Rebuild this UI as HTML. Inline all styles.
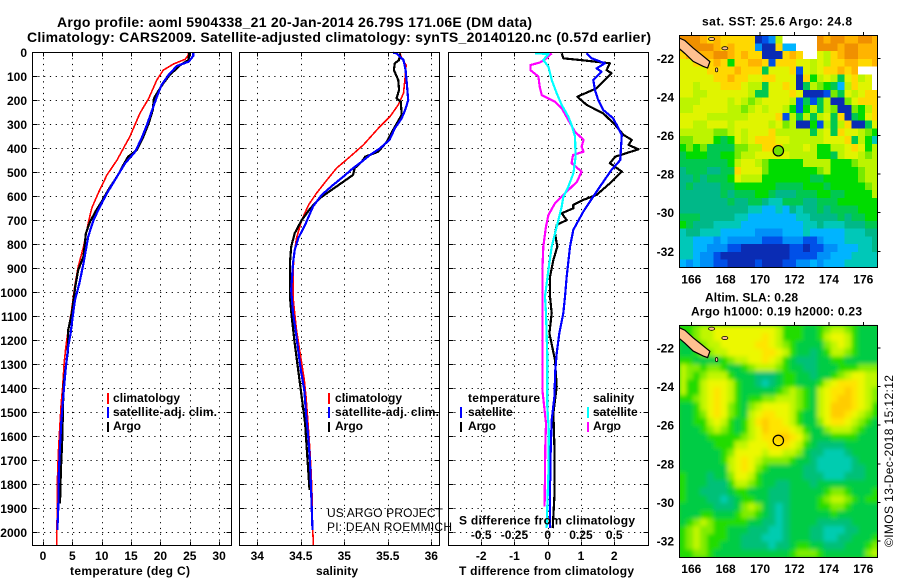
<!DOCTYPE html>
<html>
<head>
<meta charset="utf-8">
<title>Argo profile 5904338_21</title>
<style>
html,body{margin:0;padding:0;background:#fff;}
svg{display:block;}
text{font-family:"Liberation Sans",sans-serif;font-size:12px;font-weight:bold;fill:#000;}
.title{font-size:14px;}
.reg{font-weight:normal;}
</style>
</head>
<body>
<svg id="chart" xmlns="http://www.w3.org/2000/svg" width="900" height="580" viewBox="0 0 900 580">
  <rect x="0" y="0" width="900" height="580" fill="#fff"/>
  <text class="title" x="57" y="27" textLength="475">Argo profile: aoml 5904338_21 20-Jan-2014 26.79S 171.06E (DM data)</text>
  <text class="title" x="27" y="42" textLength="624">Climatology: CARS2009. Satellite-adjusted climatology: synTS_20140120.nc (0.57d earlier)</text>

  <g id="panels"></g>
  <g id="maps"></g>

  <text x="130" y="575" text-anchor="middle" textLength="120">temperature (deg C)</text>
  <text x="337" y="575" text-anchor="middle" textLength="42">salinity</text>
  <text x="459" y="575" textLength="175">T difference from climatology</text>
  <text x="459" y="524.5" textLength="176">S difference from climatology</text>

  <rect x="107" y="393" width="2" height="11" fill="#f00"/>
  <rect x="107" y="407" width="2" height="11" fill="#00f"/>
  <rect x="107" y="422" width="2" height="10" fill="#000"/>
  <text x="113" y="402" textLength="67">climatology</text>
  <text x="113" y="416" textLength="104">satellite-adj. clim.</text>
  <text x="113" y="430">Argo</text>

  <rect x="328" y="393" width="2" height="11" fill="#f00"/>
  <rect x="328" y="407" width="2" height="11" fill="#00f"/>
  <rect x="328" y="422" width="2" height="10" fill="#000"/>
  <text x="335" y="402" textLength="67">climatology</text>
  <text x="335" y="416" textLength="104">satellite-adj. clim.</text>
  <text x="335" y="430">Argo</text>

  <text x="468" y="402" textLength="72">temperature</text>
  <rect x="460" y="407" width="2" height="11" fill="#00f"/>
  <rect x="460" y="422" width="2" height="10" fill="#000"/>
  <text x="468" y="416">satellite</text>
  <text x="468" y="430">Argo</text>
  <text x="593" y="402">salinity</text>
  <rect x="587" y="407" width="2" height="11" fill="#0ff"/>
  <rect x="587" y="422" width="2" height="10" fill="#f0f"/>
  <text x="593" y="416">satellite</text>
  <text x="593" y="430">Argo</text>

  <text class="reg" x="327" y="517" textLength="116">US ARGO PROJECT</text>
  <text class="reg" x="327" y="531" textLength="125">PI: DEAN ROEMMICH</text>

  <text x="702" y="25.5" textLength="150">sat. SST: 25.6 Argo: 24.8</text>
  <text x="705" y="301.5" textLength="93">Altim. SLA: 0.28</text>
  <text x="691" y="315.5" textLength="171">Argo h1000: 0.19 h2000: 0.23</text>
  <text class="reg" transform="translate(893,547) rotate(-90)" textLength="172">©IMOS 13-Dec-2018 15:12:12</text>
</svg>
<script>
// ---------- Profile data (depth in m) ----------
const depthTicks = [0,100,200,300,400,500,600,700,800,900,1000,1100,1200,1300,1400,1500,1600,1700,1800,1900,2000];
const tempTicks = [0,5,10,15,20,25,30];
const salTicks = [34,34.5,35,35.5,36];
const salTickLabels = ['34','34.5','35','35.5','36'];
const diffTicks = [-2,-1,0,1,2];
const sDiffTicks = [-0.5,-0.25,0,0.25,0.5];
const sDiffTickLabels = ['-0.5','-0.25','0','0.25','0.5'];

const tempClimDepth = [0,10,29,49,74,115,192,254,351,449,511,587,650,712,810,893,976,1087,1157,1226,1296,1393,1462,1546,1671,1783,1893,2004,2054];
const tempClim = [24.7,24.8,24.2,22.2,20.5,19.4,18.0,16.5,14.8,12.6,10.9,9.4,8.3,7.7,6.9,6.0,5.4,4.8,4.3,3.9,3.6,3.35,3.1,2.9,2.6,2.45,2.45,2.33,2.33];
const tempSatDepth = [0,15,39,57,94,136,185,247,303,358,414,462,518,587,643,699,768,879,962,1032,1101,1171,1226,1310,1393,1462,1546,1643,1754,1893,1990];
const tempSat = [25.6,25.6,24.8,22.8,21.4,20.2,19.4,18.5,17.7,16.8,15.7,14.0,12.6,10.9,9.7,8.6,7.7,6.9,6.2,5.45,5.06,4.7,4.3,3.9,3.6,3.35,3.1,2.9,2.7,2.6,2.45];
const tempArgoDepth = [0,32,53,94,129,171,192,240,296,351,407,435,469,511,574,622,657,706,754,851,907,976,1087,1157,1254,1324,1393,1532,1629,1740,1880];
const tempArgo = [24.9,24.8,23.4,21.6,20.5,19.4,18.9,18.7,18.0,17.1,16.0,14.5,13.7,12.8,11.1,10.0,9.1,8.0,7.3,6.9,6.0,5.5,4.9,4.3,4.2,3.8,3.5,3.35,3.25,3.05,2.9];

const salClimDepth = [4,25,53,101,171,219,268,317,386,435,483,532,587,636,699,775,851,935,1018,1087,1157,1226,1296,1365,1435,1532,1657,1754,1851,1961,2054];
const salClim = [35.64,35.66,35.71,35.70,35.68,35.62,35.525,35.39,35.22,35.065,34.91,34.8,34.68,34.59,34.51,34.45,34.42,34.41,34.41,34.43,34.45,34.48,34.51,34.54,34.56,34.58,34.605,34.62,34.63,34.635,34.645];
const salSatDepth = [2,4,18,32,74,115,199,240,275,317,365,400,428,456,483,518,553,594,643,719,775,824,879,990,1087,1171,1254,1324,1407,1504,1601,1698,1837,1990];
const salSat = [35.56,35.6,35.64,35.68,35.705,35.715,35.735,35.7,35.66,35.58,35.52,35.41,35.295,35.2,35.1,34.99,34.87,34.74,34.64,34.55,34.47,34.43,34.41,34.39,34.41,34.445,34.475,34.5,34.54,34.56,34.585,34.605,34.62,34.635];
const salArgoDepth = [4,32,46,74,115,157,192,206,261,324,372,414,435,456,483,511,539,574,608,650,699,754,810,879,1018,1101,1199,1296,1407,1546,1685,1823];
const salArgo = [35.64,35.63,35.58,35.57,35.62,35.63,35.6,35.65,35.66,35.56,35.49,35.39,35.24,35.2,35.12,35.1,34.99,34.85,34.72,34.61,34.51,34.43,34.39,34.375,34.375,34.395,34.425,34.46,34.5,34.55,34.575,34.6];

const dTArgoDepth = [4,25,35,46,74,87,115,150,185,219,254,303,344,365,386,404,435,462,497,546,594,615,636,650,671,699,719,754,810,865,935,1018,1087,1171,1282,1393,1504,1643,1851,1983];
const dTArgo = [0.42,0.47,1.17,1.87,1.77,1.92,1.72,1.47,0.89,1.17,1.67,2.03,2.28,2.53,2.43,2.73,2.03,1.87,2.23,1.87,1.47,1.07,0.77,0.77,0.42,0.57,0.27,0.22,0.29,0.17,0.07,0.07,0.12,0.05,0.22,0.27,0.17,0.2,0.2,0.15];
const dTSatDepth = [4,25,46,67,81,115,157,199,240,275,344,449,490,560,601,664,740,810,935,1018,1087,1171,1254,1324,1435,1532,1657,1823,1983];
const dTSat = [1.17,1.32,1.72,1.47,1.62,1.37,1.42,1.52,1.67,1.97,2.23,2.18,1.92,1.57,1.37,1.07,0.77,0.67,0.57,0.52,0.47,0.35,0.27,0.23,0.2,0.12,0.09,0.07,0.07];
const dSArgoDepth = [4,25,43,53,74,101,143,178,206,233,282,331,365,393,414,428,462,497,539,574,629,678,726,810,907,1018,1171,1268,1407,1546,1643,1893];
const dSArgo = [0.03,-0.01,-0.06,-0.13,-0.13,-0.07,-0.06,-0.045,0.055,0.105,0.155,0.205,0.27,0.255,0.27,0.19,0.18,0.255,0.22,0.155,0.055,0.005,-0.013,-0.033,-0.04,-0.038,-0.038,-0.04,-0.04,-0.013,-0.018,-0.023];
const dSSatDepth = [4,7,32,60,115,171,219,268,303,351,435,504,560,601,643,726,810,907,1018,1087,1268,1476,1574,1754,1983];
const dSSat = [-0.095,0.005,-0.033,0.005,0.03,0.068,0.105,0.155,0.18,0.205,0.21,0.193,0.155,0.118,0.105,0.068,0.03,0.005,-0.02,-0.013,-0.003,-0.003,0.008,0.005,-0.008];

// ---------- Map data: one row per 0.4 deg of latitude, one code per 0.4 deg of longitude ----------
const mapLonTicks = [166,168,170,172,174,176];
const mapLatTicks = [-22,-24,-26,-28,-30,-32];
const profileLon = [171.06];
const profileLat = [-26.79];
const sstLevels = {w:'#ffffff',a:'#0a2cb4',b:'#0050e8',c:'#0090f8',d:'#00b4ff',e:'#00c8b8',f:'#00b888',g:'#00c850',h:'#00dc00',i:'#78ea00',j:'#bcf400',k:'#e0f400',l:'#ffd800',m:'#ffb400',n:'#f09000'};
const slaLevels = {e:'#00ccb0',f:'#00c078',g:'#00cc44',h:'#20dc00',i:'#80ec00',j:'#c0f600',k:'#ecf800',l:'#ffe400',m:'#ffcc00'};
const sstRows = [
"nnnmlmlllllabcjwwwwwnmnnmmnnm",
"nnnnnmlmlllcaalddwwwnnnmnnmmm",
"lmmmmnnmlmllaaalmlwwkjlmnnmmm",
"kklllmlhllmmlblllkkjkjllmmllm",
"kkkkllllmlllgkkklbkjkllmlmwww",
"kkkkkllmllkkllkkkalhjkjgkljkw",
"kkjkkklllkjjgkklkagjihgdjlkkw",
"kkjjkkkkkkjggkkklkaaabigkjkll",
"jjjkkkkjkjijkkkkjbgbgjaaiklll",
"jjkkkkkjjijkjkkjhbhjgjiaaihjl",
"kkkkjjjjjjkkkklbjgjgjkglaghkl",
"kkjjkkkjkkkkkjkijaahbjgjlaagk",
"jjjjjiijkjkkkljjjjjgjkglkkjih",
"iijjjhghkjklllkkjjjjjkkklgjhe",
"hihiggggiijjllljjjkjhhjjklkhj",
"ghhhgghhijjkkkkkjjjjhhgjkkjij",
"ggggggghjkkjihhhhhjjjjhhhijjj",
"fgggffgglkkkihhhhhhhijhhhhijj",
"ffgfggghkjjjhhhhhhhgghhhhhijj",
"fgffffgghhhhhhgggghhhghhhhhij",
"ffffffgfggghhgfffggghhgghhhhj",
"fffffffgffggfeegggffggghhhhhh",
"ffffffffffeeddedfeffgfgggghhh",
"gggfffffeedddddddeeffffgfgghh",
"hgfffeeeedddddddddeefeeefffgg",
"effeeedddddccccdddedddddeeeff",
"eedddcdcccccbbbcccbbcdddeeeef",
"eeddcccbbaaaaaaabbabbccdddeef",
"eedccbaaaaaaaaaabbbbccdddeeee",
"dcdccbbaaaabaaabbccdcdddeeeee"
];
const slaRows = [
"hhijjkkkkkkkkkjhhhgghijjihggg",
"ghijjkkkkkkklkjhhhgghjkkjhggg",
"gghijjkkkkkllkjihggggijkjhggg",
"gghiijjkkkkkllkjhggfghjjihggg",
"hhgggghijjkklkjhgfffgghhggggg",
"jiihiihgghijjjihggffggghhhiii",
"jihijjjhgggfffghhggfgghijkkjj",
"jhhjkkkjhggfefghhggghjklllkjj",
"jhhjklkjhggggghijihgjkllmlkji",
"hhijklkjhghhiijjjihgjklmmlkji",
"gghjklkihgijkkkkjihgjkmmmlkjh",
"gghiklkihgjkllkkjhggjkmmlkjih",
"gghhjkjhghjlmllkjhggikllkjihg",
"ggghijihghjkmlllkjhggijjjihgg",
"gggghhhhhijkllmmlkiggghhhhggg",
"ggggghhhjjkkklllkjhgffffggggg",
"gggggghikkkkjkkjjigffeeefgggg",
"gggggghjklkjiiiihggfeeeeefggg",
"gggggggjklkihgggggffeeeeeffgg",
"hgggfggikkjhggggggfffeeefffgg",
"hgggfffhjjihggffgggfggggggggg",
"hggffffghhgggfffggggghiihgggh",
"hgggffefghhggfffgggghijjihghh",
"gggggfffgijigfefgggghhiihgggg",
"ggghhggghiihgfefgggggghgggggg",
"ghijihhhhhggffefggggfffffgggg",
"hijiihhgggfffeefgggffeeeffggg",
"hijihhhggfffeeefgggffeeffgggh",
"hijihhgggffffeffghhggfffggghi",
"hhiihggggggggggghiiihggggggij"
];
const landLon = [165.3,165.63,166.11,166.6,167.08,166.95,166.7,166.11,165.63,165.3];
const landLat = [-20.95,-21.08,-21.47,-21.82,-22.17,-22.5,-22.42,-22.16,-21.75,-21.5];
const islandLon = [167.18,167.95,167.47];
const islandLat = [-21.0,-21.48,-22.6];

// ---------- Axis functions ----------
const NS = 'http://www.w3.org/2000/svg';
const Y_TOP = 52.3, Y_BOT = 545.3;
function yD(d){ return Y_TOP + d * 0.24; }
function xT(v){ return 43 + v * 5.87; }
function xS(v){ return 257.3 + (v - 34) * 87; }
function xDT(v){ return 547.7 + v * 33.25; }
function xDS(v){ return 547.7 + v * 133; }
function mapX(lon){ return 691.3 + (lon - 166) * 17.2; }
function mapY1(lat){ return 58.3 + (-22 - lat) * 19.3; }
function mapY2(lat){ return 348 + (-22 - lat) * 19.3; }

function svgEl(parent, tag, attrs){
  const el = document.createElementNS(NS, tag);
  for (const k in attrs) el.setAttribute(k, attrs[k]);
  parent.appendChild(el);
  return el;
}

const panels = document.getElementById('panels');
const maps = document.getElementById('maps');

function drawPanel(key, left, right, xFn, ticks){
  const g = svgEl(panels, 'g', {});
  
  
  depthTicks.forEach(function(d){
    const y = Math.round(yD(d)) + 0.5;
    const line = svgEl(g, 'line', {x1:left, x2:right, y1:y, y2:y, stroke:'#000', 'stroke-width':1, 'stroke-dasharray':'1.2 4.6'});
    
    
    [[left, left + 5], [right - 5, right]].forEach(function(p){
      const tick = svgEl(g, 'line', {x1:p[0], x2:p[1], y1:y, y2:y, stroke:'#000', 'stroke-width':1, 'shape-rendering':'crispEdges'});
      
      
    });
  });
  ticks.forEach(function(v){
    const x = Math.round(xFn(v)) + 0.5;
    const line = svgEl(g, 'line', {x1:x, x2:x, y1:Y_TOP, y2:Y_BOT, stroke:'#000', 'stroke-width':1, 'stroke-dasharray':'1.2 4.6'});
    
    
    [[Y_TOP, Y_TOP + 4], [Y_BOT - 4, Y_BOT]].forEach(function(p){
      const tick = svgEl(g, 'line', {x1:x, x2:x, y1:p[0], y2:p[1], stroke:'#000', 'stroke-width':1, 'shape-rendering':'crispEdges'});
      
      
    });
  });
  return g;
}
function drawFrame(parent, name, x0, y0, x1, y1){
  const r = svgEl(parent, 'rect', {x:x0, y:y0, width:x1 - x0, height:y1 - y0, fill:'none', stroke:'#000', 'stroke-width':1.2, 'shape-rendering':'crispEdges'});
  
  
}
function drawSeries(parent, name, depths, values, xFn, colour, width){
  const pts = depths.map(function(d, i){ return xFn(values[i]).toFixed(1) + ',' + yD(d).toFixed(1); }).join(' ');
  const p = svgEl(parent, 'polyline', {points:pts, fill:'none', stroke:colour, 'stroke-width':width, 'shape-rendering':'crispEdges', 'stroke-linejoin':'round'});
  
  
}
function label(parent, name, x, y, str, anchor){
  const t = svgEl(parent, 'text', {x:x, y:y, 'text-anchor':anchor});
  t.textContent = str;
  
  
}

// Temperature panel
const pT = drawPanel('temperature', 32.5, 231.5, xT, tempTicks);
drawSeries(pT, 'temperature-climatology-line', tempClimDepth, tempClim, xT, '#f00', 1.6);
drawSeries(pT, 'temperature-argo-line', tempArgoDepth, tempArgo, xT, '#000', 2.2);
drawSeries(pT, 'temperature-satellite-line', tempSatDepth, tempSat, xT, '#00f', 2.2);
drawFrame(pT, 'temperature-panel-frame', 32.5, 52.5, 231.5, 545.5);
depthTicks.forEach(function(d){ label(pT, 'depth-tick-label', 27, yD(d) + 4.5, String(d), 'end'); });
tempTicks.forEach(function(v){ label(pT, 'temperature-tick-label', xT(v), 560, String(v), 'middle'); });

// Salinity panel
const pS = drawPanel('salinity', 239.5, 439.5, xS, salTicks);
drawSeries(pS, 'salinity-climatology-line', salClimDepth, salClim, xS, '#f00', 1.6);
drawSeries(pS, 'salinity-argo-line', salArgoDepth, salArgo, xS, '#000', 2.2);
drawSeries(pS, 'salinity-satellite-line', salSatDepth, salSat, xS, '#00f', 2.2);
drawFrame(pS, 'salinity-panel-frame', 239.5, 52.5, 439.5, 545.5);
salTicks.forEach(function(v, i){ label(pS, 'salinity-tick-label', xS(v), 560, salTickLabels[i], 'middle'); });

// Difference panel
const pD = drawPanel('difference', 448.5, 648.5, xDT, diffTicks);
drawSeries(pD, 'dt-argo-line', dTArgoDepth, dTArgo, xDT, '#000', 2.2);
drawSeries(pD, 'ds-argo-line', dSArgoDepth, dSArgo, xDS, '#f0f', 2.2);
drawSeries(pD, 'dt-satellite-line', dTSatDepth, dTSat, xDT, '#00f', 2.2);
drawSeries(pD, 'ds-satellite-line', dSSatDepth, dSSat, xDS, '#0ff', 2.2);
drawFrame(pD, 'difference-panel-frame', 448.5, 52.5, 648.5, 545.5);
diffTicks.forEach(function(v){ label(pD, 'dt-tick-label', xDT(v), 560, String(v), 'middle'); });
sDiffTicks.forEach(function(v, i){ label(pD, 's-difference-tick-label', xDS(v), 539, sDiffTickLabels[i], 'middle'); });

// Maps
function drawMap(key, rows, levels, yFn, blur, markerFill){
  const x0 = 679.5, x1 = 877.5, y0 = yFn(-20.8), y1 = yFn(-32.83);
  const g = svgEl(maps, 'g', {});
  
  
  const clipId = key + '-clip';
  const clip = svgEl(g, 'clipPath', {id:clipId});
  svgEl(clip, 'rect', {x:x0, y:y0, width:x1 - x0, height:y1 - y0});
  const holder = svgEl(g, 'g', {'clip-path':'url(#' + clipId + ')'});
  if (blur){
    const filt = svgEl(g, 'filter', {id:key + '-blur', x:'-5%', y:'-5%', width:'110%', height:'110%'});
    svgEl(filt, 'feGaussianBlur', {stdDeviation:blur});
    const base = svgEl(holder, 'rect', {x:x0, y:y0, width:x1 - x0, height:y1 - y0, fill:'#20d020'});
    
    
  }
  const cells = svgEl(holder, 'g', blur ? {filter:'url(#' + key + '-blur)'} : {});
  const lonStart = 165.3, latStart = -20.83, step = 0.4;
  rows.forEach(function(row, r){
    for (let c = 0; c < row.length; c++){
      const lon = lonStart + c * step, lat = latStart - r * step;
      const x = mapX(lon), y = yFn(lat);
      const cell = svgEl(cells, 'rect', {x:x.toFixed(1), y:y.toFixed(1), width:(mapX(lon + step) - x + 0.6).toFixed(1), height:(yFn(lat - step) - y + 0.6).toFixed(1), fill:levels[row[c]], 'shape-rendering':'crispEdges'});
      
      
    }
  });
  const landPts = landLon.map(function(lon, i){ return mapX(lon).toFixed(1) + ',' + yFn(landLat[i]).toFixed(1); }).join(' ');
  const land = svgEl(holder, 'polygon', {points:landPts, fill:'#ffc090', stroke:'#000', 'stroke-width':1.2});
  
  
  islandLon.forEach(function(lon, i){
    const isl = svgEl(holder, 'ellipse', {cx:mapX(lon), cy:yFn(islandLat[i]), rx:i === 2 ? 1.2 : 3, ry:i === 2 ? 2 : 1.6, fill:'#ffc090', stroke:'#000', 'stroke-width':0.8});
    
    
  });
  const marker = svgEl(holder, 'circle', {cx:mapX(profileLon[0]), cy:yFn(profileLat[0]), r:5.2, fill:markerFill, stroke:'#000', 'stroke-width':1.2});
  
  
  drawFrame(g, key + '-map-frame', x0, Math.round(y0) + 0.5, x1, Math.round(y1) + 0.5);
  mapLonTicks.forEach(function(lon){
    const x = mapX(lon);
    const tick = svgEl(g, 'line', {x1:x, x2:x, y1:y0 - 3, y2:y0, stroke:'#000', 'stroke-width':1, 'shape-rendering':'crispEdges'});
    
    
    label(g, key + '-lon-label', x, y1 + 16, String(lon), 'middle');
  });
  mapLatTicks.forEach(function(lat){
    const y = yFn(lat);
    const tick = svgEl(g, 'line', {x1:x1, x2:x1 + 3, y1:y, y2:y, stroke:'#000', 'stroke-width':1, 'shape-rendering':'crispEdges'});
    
    
    label(g, key + '-lat-label', 674, y + 4.5, String(lat), 'end');
  });
}
drawMap('sst', sstRows, sstLevels, mapY1, 0, '#70e000');
drawMap('sla', slaRows, slaLevels, mapY2, 2, 'none');
</script>
</body>
</html>
